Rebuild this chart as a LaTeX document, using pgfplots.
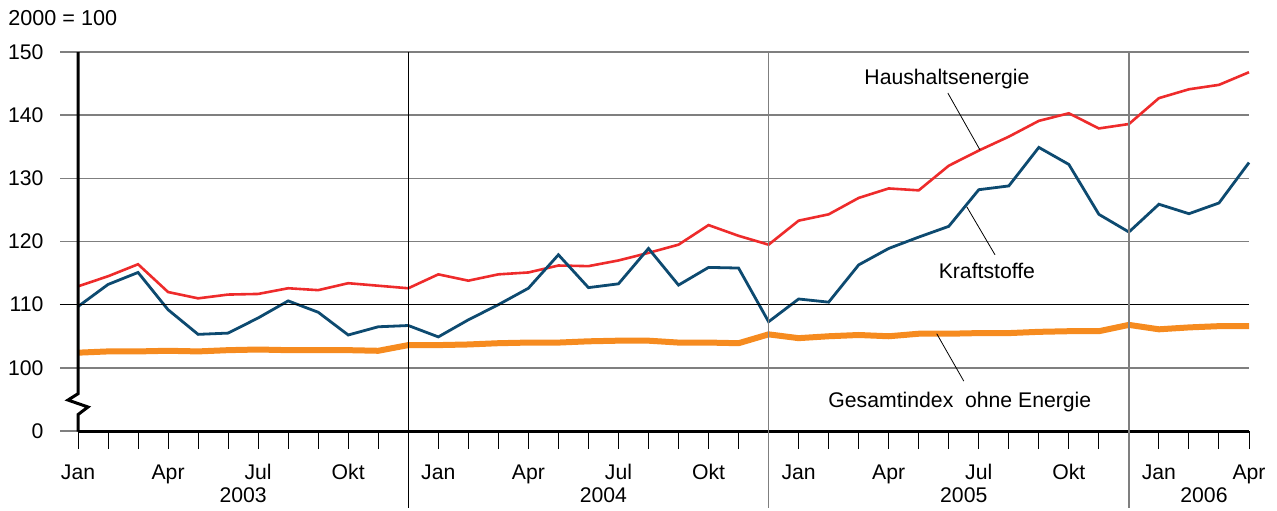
\documentclass[border=0pt]{standalone}
\usepackage{pgfplots}
\pgfplotsset{compat=1.18}
\usepackage{fontspec}
\setmainfont{Liberation Sans}
\definecolor{cred}{HTML}{EE2B2B}
\definecolor{cblue}{HTML}{0D4A70}
\definecolor{corange}{HTML}{F68B1F}
\definecolor{cgray}{HTML}{7F7F7F}
\begin{document}
\fontsize{10.6}{12.7}\selectfont
\begin{tikzpicture}
\useasboundingbox (0,0) rectangle (638.5pt,255pt);
\node[anchor=west,inner sep=0pt,font=\fontsize{10.8}{12.7}\selectfont] at (4pt,246pt) {2000 = 100};
\begin{axis}[
  at={(39pt,39.5pt)}, anchor=south west,
  width=585.5pt, height=189.5pt, scale only axis,
  xmin=0, xmax=39, ymin=90, ymax=150,
  clip=false,
  axis x line*=bottom, axis y line*=left,
  x axis line style={line width=1.5pt,-},
  y axis line style={draw=none},
  tick align=outside,
  major tick length=9pt,
  xtick={0,...,39},
  xticklabels={Jan,,,Apr,,,Jul,,,Okt,,,Jan,,,Apr,,,Jul,,,Okt,,,Jan,,,Apr,,,Jul,,,Okt,,,Jan,,,Apr},
  ytick={90,100,110,120,130,140,150},
  yticklabels={0,100,110,120,130,140,150},
  x tick style={black,line width=0.5pt},
  y tick style={cgray,line width=0.75pt},
  ymajorgrids=true,
  grid style={cgray,line width=0.75pt},
  ticklabel style={font=\fontsize{10.6}{12.7}\selectfont},
  xticklabel style={anchor=north,yshift=-4pt},
  yticklabel style={anchor=east,xshift=-4.5pt},
  /pgf/number format/assume math mode=true,
]
\addplot[corange,line width=3pt] coordinates {
(0,102.4)(1,102.6)(2,102.6)(3,102.7)(4,102.6)(5,102.8)(6,102.9)(7,102.8)(8,102.8)(9,102.8)(10,102.7)(11,103.6)
(12,103.6)(13,103.7)(14,103.9)(15,104.0)(16,104.0)(17,104.2)(18,104.3)(19,104.3)(20,104.0)(21,104.0)(22,103.9)(23,105.3)
(24,104.7)(25,105.0)(26,105.2)(27,105.0)(28,105.4)(29,105.4)(30,105.5)(31,105.5)(32,105.7)(33,105.8)(34,105.8)(35,106.8)
(36,106.1)(37,106.4)(38,106.6)(39,106.6)};
\addplot[cred,line width=1.3pt] coordinates {
(0,112.9)(1,114.5)(2,116.4)(3,112.0)(4,111.0)(5,111.6)(6,111.7)(7,112.6)(8,112.3)(9,113.4)(10,113.0)(11,112.6)
(12,114.8)(13,113.8)(14,114.8)(15,115.1)(16,116.2)(17,116.1)(18,117.0)(19,118.2)(20,119.5)(21,122.6)(22,120.9)(23,119.5)
(24,123.3)(25,124.3)(26,126.9)(27,128.4)(28,128.1)(29,132.0)(30,134.4)(31,136.6)(32,139.1)(33,140.3)(34,137.9)(35,138.6)
(36,142.7)(37,144.1)(38,144.8)(39,146.8)};
\addplot[cblue,line width=1.4pt] coordinates {
(0,109.7)(1,113.2)(2,115.1)(3,109.2)(4,105.3)(5,105.5)(6,107.9)(7,110.6)(8,108.8)(9,105.2)(10,106.5)(11,106.7)
(12,104.9)(13,107.6)(14,110.0)(15,112.6)(16,117.9)(17,112.7)(18,113.3)(19,118.9)(20,113.1)(21,115.9)(22,115.8)(23,107.3)
(24,110.9)(25,110.4)(26,116.3)(27,118.9)(28,120.7)(29,122.4)(30,128.2)(31,128.8)(32,134.9)(33,132.2)(34,124.3)(35,121.5)
(36,125.9)(37,124.4)(38,126.1)(39,132.5)};
% black 110 line
\draw[black,line width=0.5pt] (axis cs:-0.6,110) -- (axis cs:39,110);
% year separators
\draw[black,line width=0.5pt] (axis cs:11,150) -- (axis cs:11,77.8);
\draw[cgray,line width=0.75pt] (axis cs:23,150) -- (axis cs:23,77.8);
\draw[cgray,line width=0.75pt] (axis cs:35,149.8) -- (axis cs:35,77.8);
% left axis with break
\draw[black,line width=1.5pt] (axis cs:0,150) -- (axis cs:0,95.9) -- (axis cs:-0.333,94.9) -- (axis cs:0.333,93.8) -- (axis cs:0,92.6) -- (axis cs:0,89.9);
% years
\node[font=\fontsize{10.6}{12.7}\selectfont] at (axis cs:5.5,79.9) {2003};
\node[font=\fontsize{10.6}{12.7}\selectfont] at (axis cs:17.5,79.9) {2004};
\node[font=\fontsize{10.6}{12.7}\selectfont] at (axis cs:29.5,79.9) {2005};
\node[font=\fontsize{10.6}{12.7}\selectfont] at (axis cs:37.5,79.9) {2006};
% series labels
\node[font=\fontsize{10.6}{12.7}\selectfont] at (axis cs:28.94,145.7) {Haushaltsenergie};
\draw[black,line width=0.4pt] (axis cs:28.97,143.5) -- (axis cs:30.04,134.5);
\node[font=\fontsize{10.6}{12.7}\selectfont] at (axis cs:30.27,115.3) {Kraftstoffe};
\draw[black,line width=0.4pt] (axis cs:29.6,125.5) -- (axis cs:30.54,117.9);
\node[font=\fontsize{10.6}{12.7}\selectfont] at (axis cs:29.37,94.6) {Gesamtindex\ \ ohne Energie};
\draw[black,line width=0.4pt] (axis cs:28.6,105.4) -- (axis cs:29.5,97.9);
\end{axis}
\end{tikzpicture}
\end{document}
